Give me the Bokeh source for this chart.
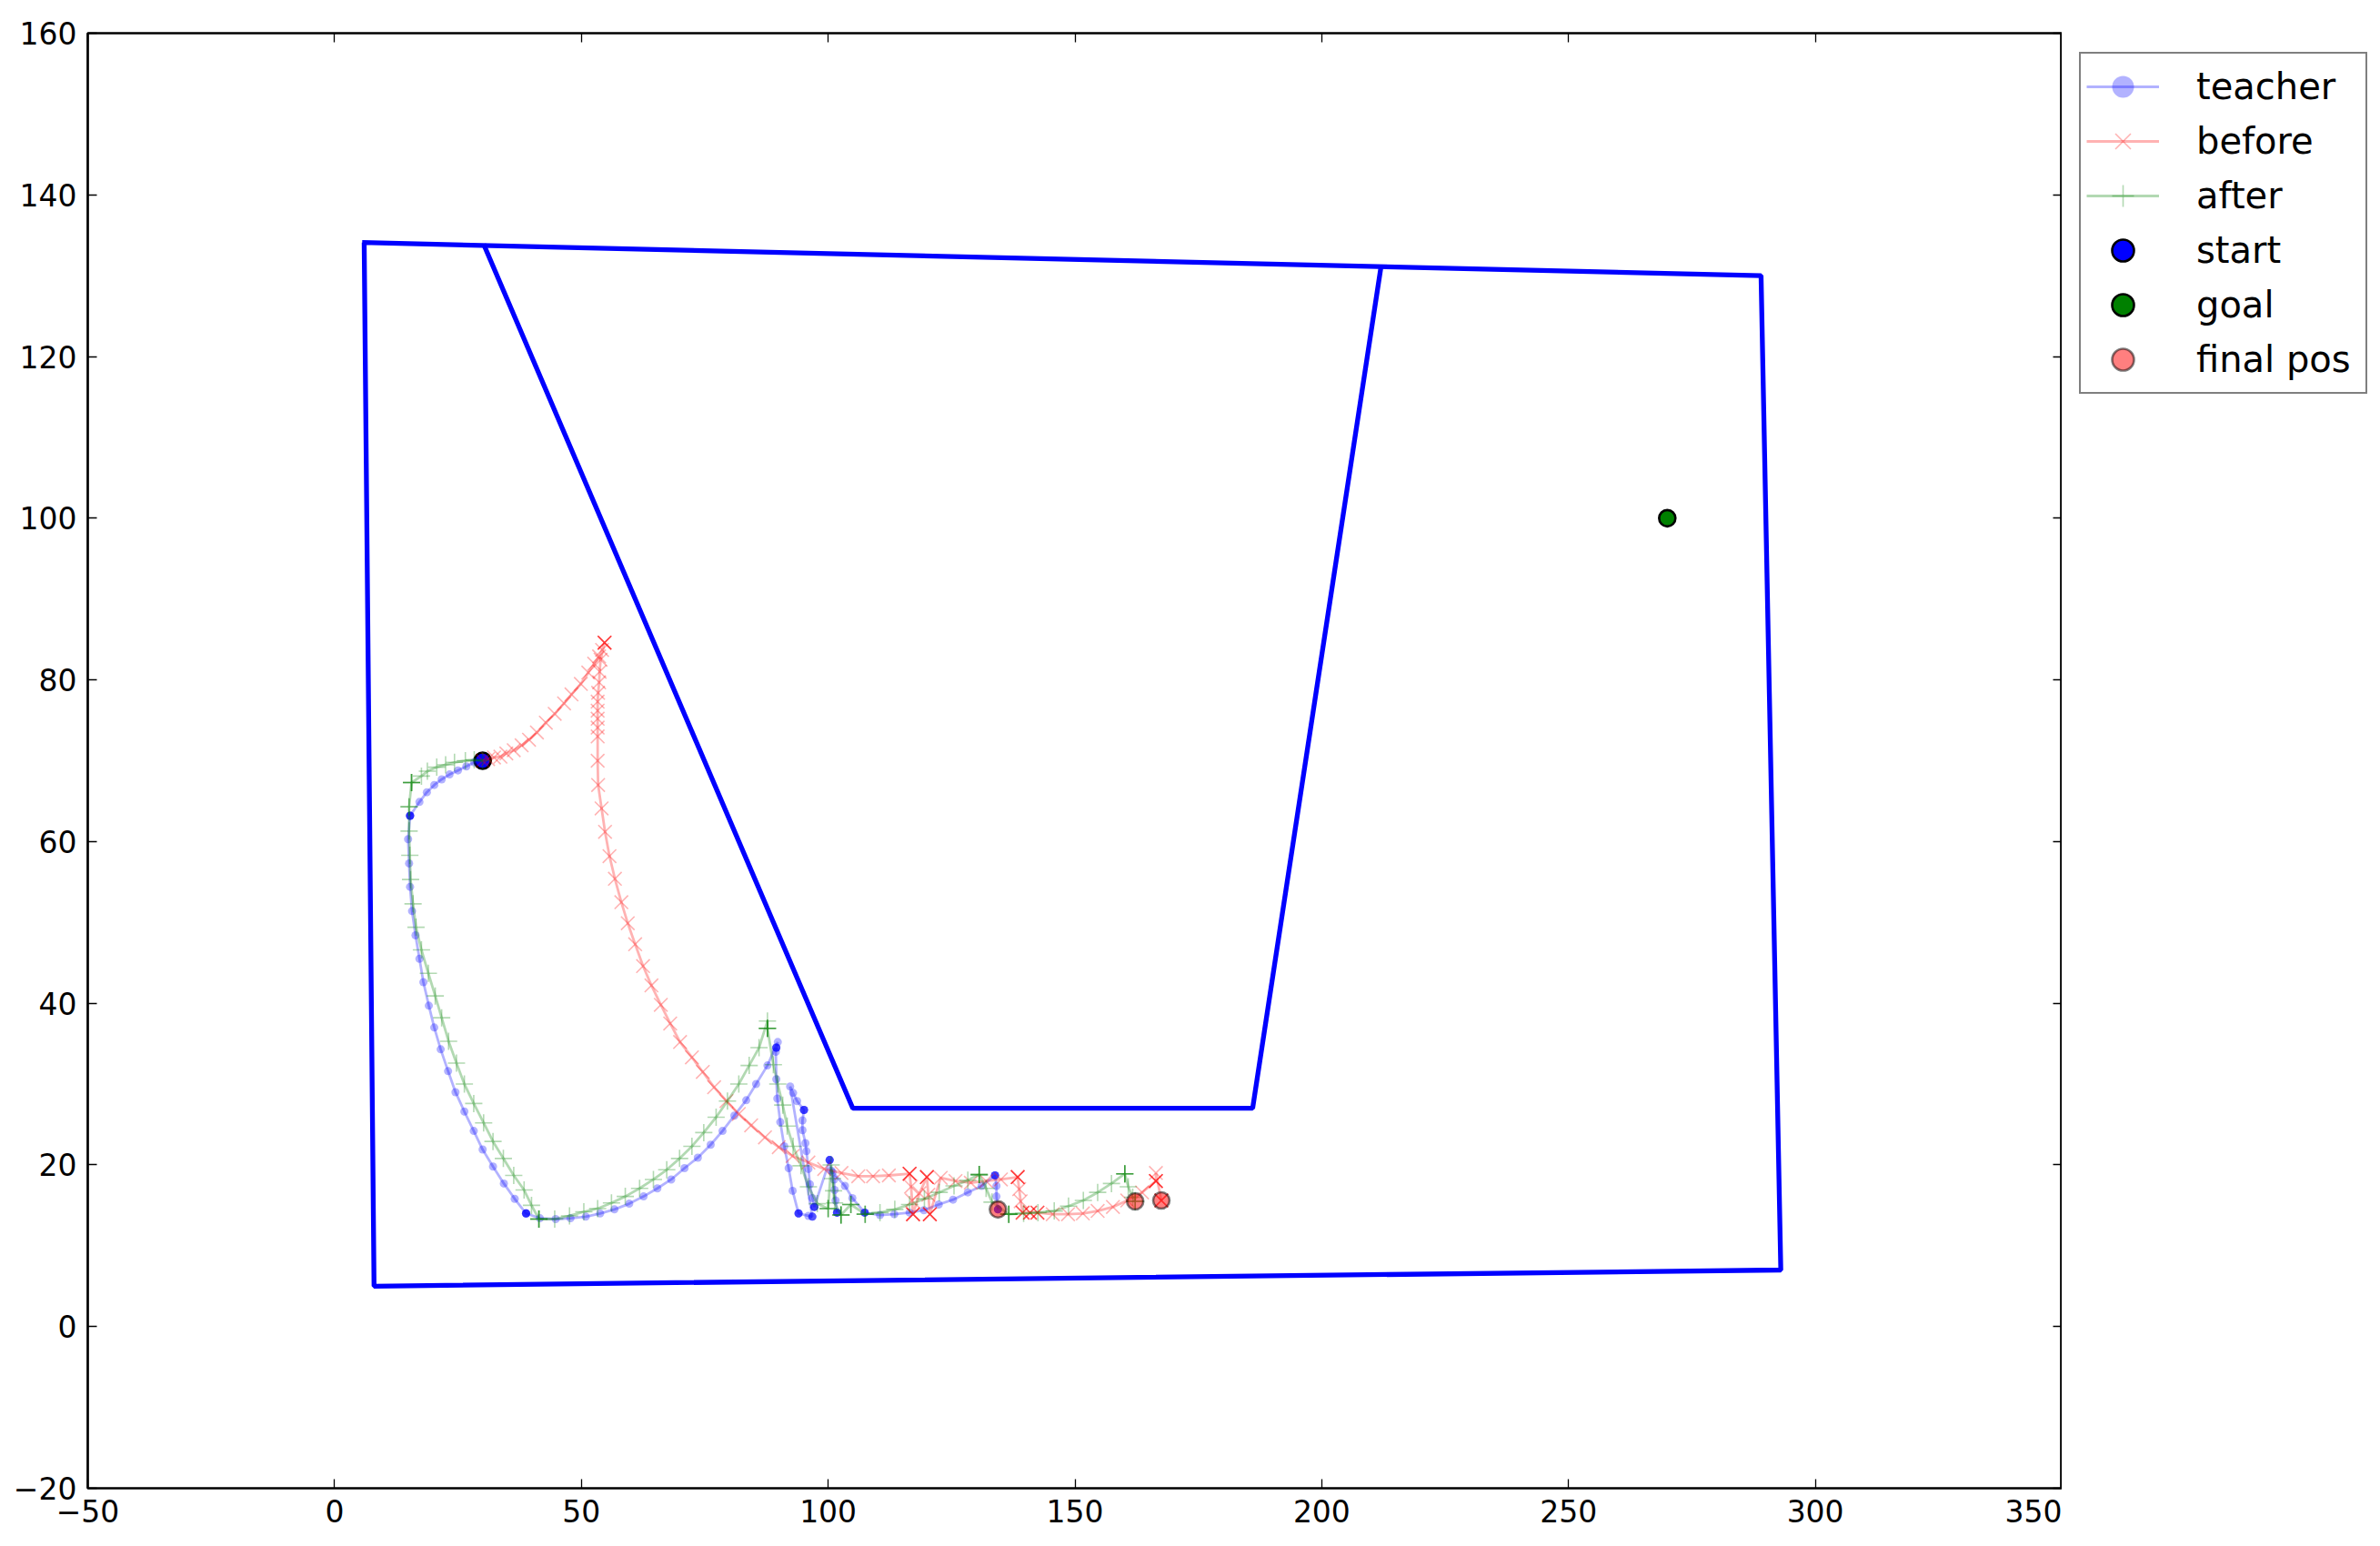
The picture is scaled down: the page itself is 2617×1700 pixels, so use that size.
from bokeh.plotting import figure
from bokeh.models import Range1d, FixedTicker, LinearAxis, Legend, LegendItem, ColumnDataSource
from bokeh.layouts import row
from bokeh.embed import file_html
from bokeh.resources import INLINE

# ---------------- data ----------------
x_ticks = [-50, 0, 50, 100, 150, 200, 250, 300, 350]
x_tick_labels = ["\u221250", "0", "50", "100", "150", "200", "250", "300", "350"]
y_ticks = [-20, 0, 20, 40, 60, 80, 100, 120, 140, 160]
y_tick_labels = ["\u221220", "0", "20", "40", "60", "80", "100", "120", "140", "160"]
legend_labels = ["teacher", "before", "after", "start", "goal", "final pos"]

outer_wall_x = [6, 8, 293, 289, 5.6]
outer_wall_y = [134.1, 5, 7, 130, 134.1]
inner_wall_x = [30.2, 105, 186, 212]
inner_wall_y = [133.9, 27, 27, 131.1]

start_pt = (30, 70)
goal_pt = (270, 100)
final_x = [134.4, 162.2, 167.5]
final_y = [14.5, 15.5, 15.6]

teacher_pts = [
    (29.9, 70.2), (28.3, 69.8), (26.7, 69.3), (25.0, 68.8), (23.3, 68.3), (21.7, 67.7), (20.2, 67.0),
    (18.7, 66.1), (17.2, 64.9), (15.3, 63.2), (15.3, 63.2), (15.3, 63.2), (15.3, 63.2), (15.3, 63.2),
    (14.9, 60.3), (15.1, 57.3), (15.3, 54.4), (15.7, 51.4), (16.4, 48.4), (17.2, 45.5), (18.0, 42.6),
    (19.1, 39.7), (20.2, 37.0), (21.5, 34.3), (23.0, 31.6), (24.5, 29.0), (26.3, 26.6), (28.2, 24.2),
    (30.0, 21.9), (32.1, 19.8), (34.3, 17.7), (36.5, 15.8), (38.8, 14.0), (38.8, 14.0), (38.8, 14.0),
    (38.8, 14.0), (38.8, 14.0),
    (41.6, 13.4), (44.8, 13.3), (47.8, 13.4), (50.9, 13.6), (53.8, 14.0), (56.7, 14.5), (59.7, 15.2),
    (62.6, 16.1), (65.4, 17.1), (68.2, 18.2), (70.9, 19.6), (73.6, 20.9), (76.2, 22.5), (78.6, 24.2),
    (81.0, 26.1), (83.4, 28.0), (85.4, 30.0), (87.7, 32.3), (89.8, 35.2), (89.5, 34.5), (89.5, 34.5),
    (89.5, 34.5), (89.5, 34.5),
    (89.4, 34.0), (89.5, 30.6), (89.7, 28.2), (90.3, 25.3), (91.1, 22.3), (92.0, 19.6), (92.8, 16.8),
    (94.0, 14.0), (94.0, 14.0), (94.0, 14.0), (94.0, 14.0), (96.0, 13.7), (96.8, 13.6), (96.8, 13.6),
    (96.8, 13.6),
    (92.3, 29.7), (92.9, 28.9), (93.7, 27.9), (95.1, 26.8), (95.1, 26.8), (95.1, 26.8), (95.1, 26.8),
    (94.8, 25.5), (94.8, 24.3), (95.4, 22.7), (95.6, 21.7), (96.0, 19.5), (96.3, 17.6), (96.8, 15.9),
    (97.2, 14.8), (97.2, 14.8), (97.2, 14.8), (97.2, 14.8),
    (100.3, 20.6), (100.3, 20.6), (100.3, 20.6), (100.3, 20.6), (100.6, 19.3), (101.2, 18.2),
    (101.3, 16.9), (101.5, 15.6), (101.8, 14.1), (101.8, 14.1), (101.8, 14.1), (101.8, 14.1),
    (100.9, 19.1), (103.4, 17.4), (104.9, 15.9), (107.4, 14.1), (107.4, 14.1), (107.4, 14.1), (107.4, 14.1),
    (110.5, 13.8), (113.4, 13.9), (116.5, 14.1), (119.4, 14.4), (122.4, 15.1), (125.3, 15.7),
    (128.3, 16.6), (131.1, 17.4), (133.8, 18.7), (133.8, 18.7), (133.8, 18.7), (133.8, 18.7),
    (134.1, 17.4), (134.1, 16.1), (134.4, 14.5), (134.4, 14.5), (134.4, 14.5), (134.4, 14.5),
]

before_pts = [
    (30.0, 70.0), (31.1, 70.2), (32.3, 70.4), (33.6, 70.5), (34.8, 70.9), (36.3, 71.3), (37.9, 71.9),
    (39.4, 72.6), (41.0, 73.5), (42.8, 74.7), (44.6, 75.8), (46.5, 77.1), (48.0, 78.2), (49.9, 79.5),
    (51.4, 80.9), (52.6, 82.0), (53.6, 82.9), (54.2, 83.7), (54.7, 84.6), (54.7, 84.6), (54.7, 84.6),
    (54.7, 84.6),
    (53.9, 82.5), (53.7, 81.0), (53.6, 79.7), (53.4, 78.4), (53.3, 77.3), (53.3, 76.2), (53.3, 75.2),
    (53.3, 74.1), (53.3, 73.0), (53.3, 70.0), (53.4, 67.0), (54.1, 64.1), (54.8, 61.2), (55.7, 58.2),
    (56.8, 55.4), (58.1, 52.5), (59.4, 49.9), (60.9, 47.3), (62.5, 44.6), (64.2, 42.2), (66.1, 39.8),
    (68.0, 37.5), (70.0, 35.2), (72.4, 33.3), (74.6, 31.5), (76.9, 29.6), (79.4, 27.9), (81.9, 26.3),
    (84.4, 24.9), (87.2, 23.4), (90.0, 22.2), (92.8, 21.1), (96.0, 20.3), (99.2, 19.5), (102.7, 19.0),
    (106.1, 18.6), (109.1, 18.6), (112.3, 18.7),
    (116.5, 18.9), (116.5, 18.9), (116.5, 18.9), (116.5, 18.9), (116.8, 17.3), (117.0, 15.6),
    (117.2, 13.9), (117.2, 13.9), (117.2, 13.9), (117.2, 13.9), (118.5, 16.5),
    (120.0, 18.5), (120.0, 18.5), (120.0, 18.5), (120.0, 18.5), (120.3, 16.3),
    (120.6, 13.9), (120.6, 13.9), (120.6, 13.9), (120.6, 13.9),
    (122.8, 18.4), (125.8, 18.0), (128.9, 17.8), (132.0, 18.0), (135.0, 18.2),
    (138.4, 18.5), (138.4, 18.5), (138.4, 18.5), (138.4, 18.5), (138.7, 17.0), (139.0, 15.5),
    (139.4, 14.1), (139.4, 14.1), (139.4, 14.1), (140.9, 14.1), (140.9, 14.1), (140.9, 14.1),
    (142.4, 14.1), (142.4, 14.1), (142.4, 14.1),
    (145.5, 13.9), (148.6, 13.9), (151.6, 14.0), (154.6, 14.3), (157.7, 14.8), (160.6, 15.6),
    (163.6, 16.6), (166.4, 18.0), (166.4, 18.0), (166.4, 18.0), (166.4, 18.0), (166.4, 19.0),
    (167.5, 15.6), (167.5, 15.6), (167.5, 15.6),
]

after_pts = [
    (30.0, 70.0), (28.3, 70.1), (26.5, 70.0), (24.3, 69.8), (22.5, 69.5), (20.7, 69.2), (18.8, 68.7),
    (17.6, 68.1), (15.6, 67.3), (15.6, 67.3), (15.6, 67.3), (15.6, 67.3),
    (15.1, 64.3), (15.1, 64.3), (15.1, 61.3), (15.25, 58.3), (15.4, 55.3), (15.9, 52.3), (16.5, 49.4),
    (17.6, 46.6), (19.0, 43.7), (20.4, 40.9), (21.7, 38.2), (23.1, 35.3), (24.7, 32.6), (26.3, 30.0),
    (28.2, 27.6), (30.2, 25.2), (32.1, 22.9), (34.2, 20.8), (36.3, 18.7), (38.4, 16.9), (39.9, 15.0),
    (41.4, 13.3), (41.4, 13.3), (41.4, 13.3), (41.4, 13.3),
    (44.6, 13.3), (47.6, 13.7), (50.5, 14.2), (53.3, 14.6), (56.1, 15.3), (58.9, 16.1), (61.8, 17.1),
    (64.6, 18.2), (67.3, 19.4), (69.9, 20.8), (72.4, 22.3), (74.8, 24.0), (77.3, 25.9), (79.6, 27.9),
    (81.9, 30.0), (84.0, 32.3), (86.0, 34.5), (87.7, 37.8), (87.7, 36.9), (87.7, 36.9), (87.7, 36.9),
    (87.7, 36.9),
    (88.9, 32.4), (89.8, 30.0), (90.8, 27.4), (91.7, 24.8), (92.9, 22.3), (94.5, 19.9), (96.0, 17.3),
    (97.8, 15.2), (100.0, 14.6), (100.0, 14.6), (100.0, 14.6), (100.6, 20.0), (100.9, 18.3),
    (101.1, 16.8), (101.3, 15.3), (102.6, 13.8), (102.6, 13.8), (102.6, 13.8), (102.6, 13.8),
    (104.6, 15.1), (104.6, 15.1), (104.6, 15.1), (107.5, 13.9), (107.5, 13.9), (107.5, 13.9),
    (110.5, 14.1), (113.5, 14.5), (116.5, 15.1), (119.5, 15.8), (122.5, 16.6), (125.5, 17.4),
    (128.3, 18.1), (130.6, 18.8), (130.6, 18.8), (130.6, 18.8), (130.6, 18.8), (132.0, 17.1),
    (133.2, 15.4), (136.6, 13.9), (136.6, 13.9), (136.6, 13.9), (136.6, 13.9),
    (139.6, 14.0), (142.5, 14.1), (145.8, 14.3), (148.7, 14.9), (151.7, 15.6), (154.6, 16.6),
    (157.4, 17.7), (160.1, 18.9), (160.1, 18.9), (160.1, 18.9), (160.1, 18.9), (160.8, 17.3),
    (161.7, 16.0), (162.2, 15.5), (162.2, 15.5), (162.2, 15.5),
]

# ---------------- styles ----------------
FONT = "DejaVu Sans"
TEACHER_LINE = dict(line_color="#0000ff", line_alpha=0.3, line_width=2.8)
TEACHER_MARK = dict(marker="circle", size=9, fill_color="#0000ff", fill_alpha=0.3, line_color=None)
BEFORE_LINE = dict(line_color="#ff0000", line_alpha=0.3, line_width=2.8)
BEFORE_MARK = dict(marker="x", size=21, line_color="#ff0000", line_alpha=0.3, line_width=1.6)
AFTER_LINE = dict(line_color="#008000", line_alpha=0.3, line_width=2.8)
AFTER_MARK = dict(marker="cross", size=19, line_color="#008000", line_alpha=0.3, line_width=1.6)
START_MARK = dict(marker="circle", size=18, fill_color="#0000ff", line_color="black", line_width=2.6)
GOAL_MARK = dict(marker="circle", size=18, fill_color="#008000", line_color="black", line_width=2.6)
FINAL_MARK = dict(marker="circle", size=18, fill_color="#ff0000", fill_alpha=0.5,
                  line_color="black", line_alpha=0.5, line_width=2.6)

# ---------------- main figure ----------------
p = figure(width=2267, height=1700, output_backend="svg", toolbar_location=None,
           x_range=Range1d(-50, 350), y_range=Range1d(-20, 160),
           min_border_left=96, min_border_right=0, min_border_top=36, min_border_bottom=64)
p.grid.visible = False
p.outline_line_color = "black"
p.outline_line_width = 2.7
p.background_fill_color = "white"
p.border_fill_color = "white"


def style_axis(ax, ticks, labels, show_labels=True):
    ax.ticker = FixedTicker(ticks=ticks)
    ax.axis_line_color = None
    ax.major_tick_in = 10
    ax.major_tick_out = 0
    ax.major_tick_line_width = 1.3
    ax.major_tick_line_color = "black"
    ax.minor_tick_line_color = None
    ax.major_label_text_font = FONT
    ax.major_label_text_color = "black"
    ax.major_label_text_font_size = "33px"
    if show_labels:
        ax.major_label_overrides = {t: l for t, l in zip(ticks, labels)}
        ax.major_label_standoff = 12
    else:
        ax.major_label_overrides = {t: "" for t in ticks}
        ax.major_label_standoff = 0


style_axis(p.xaxis[0], x_ticks, x_tick_labels)
style_axis(p.yaxis[0], y_ticks, y_tick_labels)
top_axis = LinearAxis()
style_axis(top_axis, x_ticks, x_tick_labels, show_labels=False)
p.add_layout(top_axis, "above")
right_axis = LinearAxis()
style_axis(right_axis, y_ticks, y_tick_labels, show_labels=False)
p.add_layout(right_axis, "right")

p.line(outer_wall_x, outer_wall_y, line_color="#0000ff", line_width=5.3)
p.line(inner_wall_x, inner_wall_y, line_color="#0000ff", line_width=5.3)

p.scatter([start_pt[0]], [start_pt[1]], **START_MARK)
p.scatter([goal_pt[0]], [goal_pt[1]], **GOAL_MARK)


def series(pts):
    return ColumnDataSource(dict(x=[a for a, b in pts], y=[b for a, b in pts]))


ts = series(teacher_pts)
bs = series(before_pts)
as_ = series(after_pts)
p.line("x", "y", source=ts, **TEACHER_LINE)
p.scatter("x", "y", source=ts, **TEACHER_MARK)
p.line("x", "y", source=bs, **BEFORE_LINE)
p.scatter("x", "y", source=bs, **BEFORE_MARK)
p.line("x", "y", source=as_, **AFTER_LINE)
p.scatter("x", "y", source=as_, **AFTER_MARK)
p.scatter(final_x, final_y, **FINAL_MARK)

# ---------------- legend panel (key glyphs only) ----------------
q = figure(width=350, height=1700, output_backend="svg", toolbar_location=None,
           x_range=Range1d(0, 1), y_range=Range1d(0, 1), min_border=0)
q.axis.visible = False
q.grid.visible = False
q.outline_line_color = None
q.background_fill_color = "white"
q.border_fill_color = "white"

# key glyphs need one sample each; it lies outside this panel's range, so only the legend shows it
key_x = [5.0, 6.0]
key_y = [5.0, 6.0]


def key_src():
    return ColumnDataSource(dict(x=key_x, y=key_y))


k_tl = q.line("x", "y", source=key_src(), **TEACHER_LINE)
k_tm = q.scatter("x", "y", source=key_src(), **TEACHER_MARK)
k_bl = q.line("x", "y", source=key_src(), **BEFORE_LINE)
k_bm = q.scatter("x", "y", source=key_src(), **BEFORE_MARK)
k_al = q.line("x", "y", source=key_src(), **AFTER_LINE)
k_am = q.scatter("x", "y", source=key_src(), **AFTER_MARK)
k_s = q.scatter("x", "y", source=key_src(), **START_MARK)
k_g = q.scatter("x", "y", source=key_src(), **GOAL_MARK)
k_f = q.scatter("x", "y", source=key_src(), **FINAL_MARK)
key_renderers = [[k_tl, k_tm], [k_bl, k_bm], [k_al, k_am], [k_s], [k_g], [k_f]]

legend = Legend(items=[LegendItem(label=l, renderers=r) for l, r in zip(legend_labels, key_renderers)],
                location=(19, 1203))
legend.border_line_color = "black"
legend.border_line_width = 2.7
legend.background_fill_color = "white"
legend.background_fill_alpha = 1.0
legend.label_text_font = FONT
legend.label_text_font_size = "40px"
legend.label_text_color = "black"
legend.glyph_width = 80
legend.glyph_height = 60
legend.label_height = 60
legend.label_width = 180
legend.spacing = 0
legend.padding = 6
legend.margin = 0
legend.label_standoff = 41
q.add_layout(legend, "center")

layout = row(p, q, spacing=0)
open("out.html", "w").write(file_html(layout, INLINE))
